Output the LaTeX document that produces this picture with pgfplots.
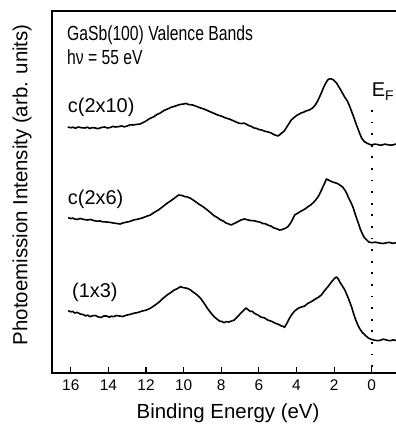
\documentclass[border=0pt]{standalone}
\usepackage{fontspec}
\setmainfont{Liberation Sans}
\newfontfamily\narrowfont[FakeStretch=0.77]{Liberation Sans}
\usepackage{pgfplots}
\pgfplotsset{compat=1.18}
\begin{document}
\begin{tikzpicture}
\begin{axis}[
  at={(52bp,60bp)}, anchor=south west,
  scale only axis, width=360bp, height=362bp,
  x dir=reverse,
  xmin=-2.14, xmax=17.0,
  ymin=0, ymax=362,
  xtick={0,2,4,6,8,10,12,14,16},
  ytick=\empty,
  tick align=inside, tick pos=left,
  major tick length=6bp,
  axis line style={line width=1.2bp},
  every tick/.style={line width=1.2bp, black},
  /pgf/number format/assume math mode=true,
  ticklabel style={font=\fontsize{15.5}{18}\selectfont},
  xticklabel style={yshift=-3bp},
  xlabel={Binding Energy (eV)},
  ylabel={Photoemission Intensity (arb. units)},
  label style={font=\fontsize{20.5}{24}\selectfont},
  xlabel style={at={(axis description cs:0.489,-0.110)}, anchor=center},
  ylabel style={at={(axis description cs:-0.083,0.52)}, anchor=center},
  clip=false,
]
% c(2x10)
\addplot[black, line width=1.6bp, line join=round] coordinates {
(16.16,246) (16.0,245.2) (15.9,245.8) (15.75,244.8) (15.6,246) (15.45,245.3) (15.25,245) (15.1,245.8) (15.0,244.5) (14.85,245.4) (14.7,245) (14.55,244.3) (14.45,245)
(14.3,245.8) (14.2,246) (14.05,245) (13.9,245.5) (13.75,246.6) (13.64,246) (13.45,246.4) (13.3,247) (13.15,246.2) (13.0,247) (12.85,248.2) (12.7,248) (12.5,248.6) (12.31,249)
(12.15,250.5) (12.0,252) (11.8,254.5) (11.61,256) (11.42,258.5) (11.24,260) (11.05,262.5) (10.86,264) (10.65,265.8) (10.43,267) (10.22,268.4) (10.01,269) (9.88,269.6) (9.75,268.5)
(9.52,268) (9.3,266.5) (9.10,265) (8.95,264.2) (8.8,263) (8.56,261) (8.38,259.6) (8.19,258) (7.98,256.8) (7.76,255) (7.55,253.8)
(7.33,252) (7.1,250) (6.96,249.5) (6.80,249.8) (6.68,249) (6.55,247.5) (6.4,246.6) (6.26,245) (6.12,244.6) (6.0,243.5)
(5.85,243) (5.72,242) (5.55,241.2) (5.35,240) (5.15,238) (4.98,237) (4.85,239) (4.65,242) (4.45,248)
(4.28,253) (4.12,255.6) (4.0,257.5) (3.85,259) (3.75,260) (3.6,261) (3.5,262) (3.32,263) (3.15,265) (3.00,268)
(2.85,273) (2.68,280) (2.55,286) (2.41,291) (2.32,293.5) (2.25,294) (2.15,294.2) (2.03,293) (1.87,290)
(1.65,283) (1.44,276) (1.30,272) (1.18,267) (1.06,261) (0.96,256) (0.85,250) (0.75,245) (0.64,239.5) (0.54,235) (0.4,231.5)
(0.27,230) (0.1,228.5) (0,228) (-0.15,228.9) (-0.3,228.5) (-0.45,227.8) (-0.54,228) (-0.7,228.9) (-0.8,228.5) (-0.95,227.9) (-1.1,228) (-1.25,228.8) (-1.39,229)
};
% c(2x6)
\addplot[black, line width=1.6bp, line join=round] coordinates {
(16.14,155.3) (16.0,154.4) (15.9,155) (15.8,154) (15.65,153.6) (15.5,154.5) (15.3,153.5) (15.1,153) (14.95,153.6) (14.8,152.5) (14.6,151.8) (14.45,152) (14.3,151.2) (14.1,151)
(13.9,150.6) (13.75,150) (13.55,149.5) (13.38,149) (13.2,150.2) (13.0,151) (12.85,151.6) (12.66,153) (12.45,153.8) (12.2,155) (12.0,156.5) (11.77,158) (11.55,160.8) (11.3,163.5)
(11.1,166.5) (10.88,169.7) (10.7,172) (10.55,174) (10.4,176.2) (10.26,178) (10.1,177.6) (9.95,176.5) (9.8,176) (9.63,174.7) (9.42,172) (9.2,169) (8.95,166) (8.74,163)
(8.55,160) (8.4,157.5) (8.2,155.3) (8.03,153) (7.88,151.8) (7.75,150) (7.6,149) (7.49,148) (7.3,149.6) (7.15,151) (6.95,153) (6.78,154) (6.6,153.2) (6.45,152.5)
(6.25,152.2) (6.06,151.3) (5.9,150.6) (5.8,149.5) (5.65,149.2) (5.53,148) (5.35,146.8) (5.2,145) (5.05,144.2) (4.91,143) (4.8,143.2) (4.7,144) (4.58,144.8) (4.46,146.3)
(4.35,149) (4.25,152) (4.10,158) (3.92,160) (3.75,162) (3.55,164) (3.39,166.3) (3.25,168) (3.1,170.5) (2.98,173) (2.85,176.3) (2.72,181) (2.6,186)
(2.5,190) (2.41,194) (2.3,193) (2.2,192) (2.08,191) (1.96,190.3) (1.82,189.5) (1.7,188) (1.55,186) (1.43,183) (1.34,180) (1.25,176) (1.16,172.5) (1.07,169)
(0.98,165) (0.9,160) (0.8,154.5) (0.71,149.7) (0.62,144.5) (0.52,140) (0.44,137) (0.36,134.7) (0.25,132.6) (0.15,131) (0,130.3) (-0.2,130.8) (-0.4,130)
(-0.6,129.5) (-0.8,130.3) (-0.95,130.6) (-1.1,129.7) (-1.25,130.2) (-1.39,129.7)
};
% (1x3)
\addplot[black, line width=1.6bp, line join=round] coordinates {
(16.14,62.3) (16.0,61.2) (15.9,61.6) (15.8,60) (15.65,60.6) (15.5,59) (15.35,58.5) (15.2,57) (15.1,58) (14.98,56.3) (14.85,57.2) (14.7,57.5) (14.55,56.2) (14.4,55.5)
(14.25,57) (14.1,57) (13.95,55.8) (13.85,56.8) (13.73,56.3) (13.6,57.4) (13.4,57) (13.25,56.5) (13.0,58) (12.85,58.6) (12.66,59.7) (12.45,60.4) (12.2,62) (12.0,62.8) (11.77,64.7)
(11.55,67.5) (11.3,71) (11.1,74.6) (10.88,78) (10.7,80.2) (10.5,83) (10.35,84.2) (10.17,86.3) (10.05,85.5) (9.9,85) (9.78,84.5) (9.63,83) (9.5,81) (9.35,79) (9.22,77) (9.10,74.7)
(8.92,70) (8.75,65) (8.55,60) (8.38,56.3) (8.22,53.8) (8.1,52) (7.95,51.4) (7.85,50.3) (7.72,51.4) (7.6,51) (7.45,52) (7.31,53) (7.15,56) (7.0,59) (6.85,62) (6.69,65)
(6.58,63.4) (6.45,61.5) (6.35,61.8) (6.24,59.7) (6.05,58) (5.9,56) (5.7,55) (5.53,53) (5.3,51.5) (5.1,49.5) (4.95,48.6) (4.8,47) (4.72,46.8) (4.64,45.7) (4.5,50) (4.4,54)
(4.25,58.5) (4.10,62) (3.92,64.6) (3.75,66) (3.58,66.8) (3.39,69.7) (3.2,71.5) (3.0,74) (2.85,75.5) (2.68,78) (2.5,82.5) (2.3,87) (2.12,91.5) (1.96,95) (1.87,96)
(1.78,94) (1.7,91) (1.56,87) (1.43,83) (1.34,79) (1.25,75) (1.16,70.5) (1.07,66) (0.96,59) (0.85,53) (0.74,48) (0.63,44) (0.5,40.5) (0.36,38) (0.18,35)
(0.05,33.8) (-0.1,33) (-0.25,32.5) (-0.36,32.3) (-0.5,33) (-0.6,33.8) (-0.7,33.5) (-0.85,32.6) (-1.0,32.3) (-1.15,33.2) (-1.25,32.6) (-1.39,32.5)
};
% Fermi level
\addplot[black, line width=1.8bp, dash pattern=on 1.8bp off 9.8bp] coordinates {(0,263) (0,0)};
\node[anchor=base west, inner sep=0pt, font=\narrowfont\fontsize{20.5}{24}\selectfont] at (axis cs:16.21,332) {GaSb(100) Valence Bands};
\node[anchor=base west, inner sep=0pt, font=\narrowfont\fontsize{20.5}{24}\selectfont] at (axis cs:16.21,308) {hν = 55 eV};
\node[anchor=base west, inner sep=0pt, font=\fontsize{20}{24}\selectfont] at (axis cs:16.16,260) {c(2x10)};
\node[anchor=base west, inner sep=0pt, font=\fontsize{20}{24}\selectfont] at (axis cs:16.16,168) {c(2x6)};
\node[anchor=base west, inner sep=0pt, font=\fontsize{20}{24}\selectfont] at (axis cs:15.94,75) {(1x3)};
\node[anchor=base west, inner sep=0pt, font=\fontsize{20}{24}\selectfont] at (axis cs:0,276) {E\textsubscript{F}};
\end{axis}
\pgfresetboundingbox
\path[use as bounding box] (0,0) rectangle (396bp,433bp);
\end{tikzpicture}
\end{document}
